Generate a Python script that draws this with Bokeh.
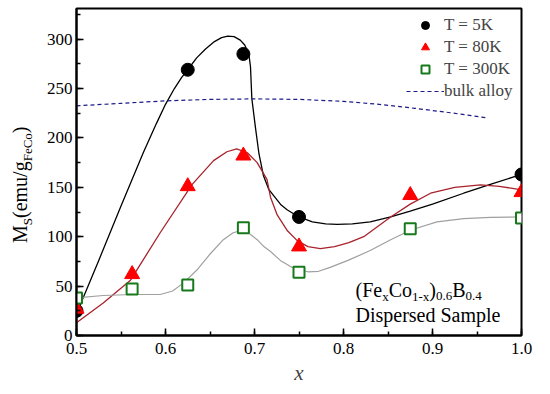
from bokeh.plotting import figure
from bokeh.layouts import row
from bokeh.models import (Range1d, SingleIntervalTicker, NumeralTickFormatter,
                          Legend, LegendItem, Label, Div)
from bokeh.embed import file_html
from bokeh.resources import INLINE

# ---------------- data ----------------
x_pts_5k = [0.5, 0.625, 0.6875, 0.75, 1.0]
ms_5k = [25, 269, 285, 120, 163]

x_pts_80k = [0.5, 0.5625, 0.625, 0.6875, 0.75, 0.875, 1.0]
ms_80k = [27, 62, 151, 182, 90, 142, 145]

x_pts_300k = [0.5, 0.5625, 0.625, 0.6875, 0.75, 0.875, 1.0]
ms_300k = [38, 47, 51, 109, 64, 108, 119]

# fitted curves
fit5_x = [0.500, 0.525, 0.550, 0.575, 0.590, 0.600, 0.610, 0.618, 0.625, 0.635,
          0.645, 0.655, 0.663, 0.670, 0.677, 0.684, 0.689, 0.6936, 0.6955, 0.697,
          0.701, 0.705, 0.710, 0.716, 0.722, 0.730, 0.737, 0.750, 0.765, 0.780,
          0.793, 0.810, 0.830, 0.853, 0.875, 0.900, 0.935, 0.965, 1.000]
fit5_y = [22, 76, 131, 185, 215, 234, 250, 261, 269, 281,
          290, 297.5, 301.5, 303, 302.5, 299, 294, 285, 272, 240,
          211, 184, 162, 148, 141, 132, 127, 120, 115, 113,
          112.5, 113, 115, 120, 126, 133, 144, 153, 163]

fit80_x = [0.500, 0.530, 0.5607, 0.594, 0.630, 0.654, 0.669, 0.680, 0.692, 0.703,
           0.714, 0.718, 0.7255, 0.737, 0.748, 0.760, 0.774, 0.790, 0.806, 0.8227,
           0.853, 0.875, 0.8978, 0.925, 0.954, 0.975, 1.000]
fit80_y = [13, 33, 56, 104, 153, 177, 186, 189, 185, 175,
           158, 140, 122, 106, 96, 90, 88, 90, 94, 100,
           120, 133, 144, 150, 152.5, 151, 147.5]

fit300_x = [0.500, 0.530, 0.5625, 0.594, 0.608, 0.620, 0.635, 0.6506, 0.665, 0.676,
            0.684, 0.693, 0.703, 0.7105, 0.718, 0.729, 0.740, 0.748, 0.760, 0.772,
            0.785, 0.805, 0.830, 0.853, 0.875, 0.905, 0.935, 0.965, 1.000]
fit300_y = [38, 40.5, 41.5, 41.5, 45, 53, 66, 83, 97, 104,
            106, 104, 97, 90, 85, 76, 70, 67, 64.5, 65,
            69, 76, 86, 97, 106.5, 115, 118.3, 119.5, 120]

bulk_x = [0.50, 0.55, 0.60, 0.65, 0.70, 0.75, 0.80, 0.84, 0.88, 0.92, 0.96]
bulk_y = [232.5, 235, 237.5, 239, 239.5, 239, 237, 234, 230, 225.5, 220.5]

legend_labels = ["T = 5K", "T = 80K", "T = 300K", "bulk alloy"]

SERIF = "Liberation Serif"
H = 392
LEFT_W = 42

# ---------------- left strip holding the rotated y title: M_S(emu/g_FeCo) ----------------
sub = "font-size:13px;position:relative;top:5px;"
ytitle_html = (
    f'<div style="position:relative;width:{LEFT_W}px;height:{H}px;overflow:visible;">'
    '<div style="position:absolute;left:10px;top:243px;transform-origin:0 0;'
    'transform:rotate(-90deg);white-space:nowrap;line-height:1;'
    f"font-family:'{SERIF}';font-size:20px;color:black;\">"
    f'M<span style="{sub}">S</span>(emu/g<span style="{sub}">FeCo</span>)'
    '</div></div>'
)
ytitle = Div(text=ytitle_html, width=LEFT_W, height=H, margin=0)

# ---------------- main figure ----------------
p = figure(width=542 - LEFT_W, height=H, output_backend="svg", toolbar_location=None,
           x_range=Range1d(0.5, 1.0), y_range=Range1d(0, 331),
           min_border_left=76 - LEFT_W, min_border_right=21, min_border_top=8,
           min_border_bottom=H - 335, margin=0)
p.xgrid.visible = False
p.ygrid.visible = False
p.outline_line_color = "black"
p.outline_line_width = 2
p.background_fill_color = "white"
p.border_fill_color = "white"

p.xaxis.ticker = SingleIntervalTicker(interval=0.1, num_minor_ticks=2)
p.yaxis.ticker = SingleIntervalTicker(interval=50, num_minor_ticks=2)
p.xaxis.formatter = NumeralTickFormatter(format="0.0")
for ax in (p.xaxis[0], p.yaxis[0]):
    ax.axis_line_width = 2
    ax.axis_line_color = "black"
    ax.major_tick_in = 7
    ax.major_tick_out = 0
    ax.minor_tick_in = 4
    ax.minor_tick_out = 0
    ax.major_tick_line_width = 1.5
    ax.minor_tick_line_width = 1.5
    ax.major_label_text_font = SERIF
    ax.major_label_text_font_size = "17px"
    ax.major_label_text_color = "black"
p.yaxis.major_label_standoff = 4
p.xaxis.major_label_standoff = 7
p.xaxis.axis_label = "x"
p.xaxis.axis_label_text_font = SERIF
p.xaxis.axis_label_text_font_style = "italic"
p.xaxis.axis_label_text_font_size = "21px"
p.xaxis.axis_label_standoff = 4

# curves
p.line(fit5_x, fit5_y, line_color="black", line_width=1.3)
p.line(fit80_x, fit80_y, line_color="#a8222c", line_width=1.3)
p.line(fit300_x, fit300_y, line_color="#a0a0a0", line_width=1.2)
r_bulk = p.line(bulk_x, bulk_y, line_color="#1c1c86", line_width=1.2, line_dash="4 3")

r5 = p.scatter(x_pts_5k, ms_5k, marker="circle", size=13, fill_color="black", line_color="black")
r80 = p.scatter(x_pts_80k, ms_80k, marker="triangle", size=15, fill_color="#ff0000", line_color="#ff0000")
r300 = p.scatter(x_pts_300k, ms_300k, marker="square", size=11, fill_color="white",
                 line_color="#16791a", line_width=2)

legend = Legend(items=[LegendItem(label=legend_labels[0], renderers=[r5]),
                       LegendItem(label=legend_labels[1], renderers=[r80]),
                       LegendItem(label=legend_labels[2], renderers=[r300]),
                       LegendItem(label=legend_labels[3], renderers=[r_bulk])],
                location=(325, 229), border_line_alpha=0, background_fill_alpha=0,
                glyph_width=38, glyph_height=20, label_height=20, spacing=2,
                padding=5, label_standoff=0, label_text_font=SERIF,
                label_text_font_size="17px", margin=0)
p.add_layout(legend, "center")


# positions of the free texts (page pixels -> data units)
def dx(px):
    return 0.5 + (px - 76) / 890.0


def dy(py):
    return (335 - py) / 0.987


def add_text(txt, px, py, size):
    p.add_layout(Label(x=dx(px), y=dy(py), text=txt, text_font=SERIF,
                       text_font_size=size, text_color="black",
                       text_align="left", text_baseline="alphabetic"))


# composition annotation (Fe_x Co_1-x)_0.6 B_0.4
add_text("(Fe", 355, 290, "20px")
add_text("x", 381.7, 296, "13px")
add_text("Co", 388.2, 290, "20px")
add_text("1-x", 411.5, 296, "13px")
add_text(")", 428.8, 290, "20px")
add_text("0.6", 435.5, 296, "13px")
add_text("B", 451.7, 290, "20px")
add_text("0.4", 465, 296, "13px")
add_text("Dispersed Sample", 355, 315, "20px")

layout = row(ytitle, p, spacing=0)
open("out.html", "w").write(file_html(layout, INLINE))
